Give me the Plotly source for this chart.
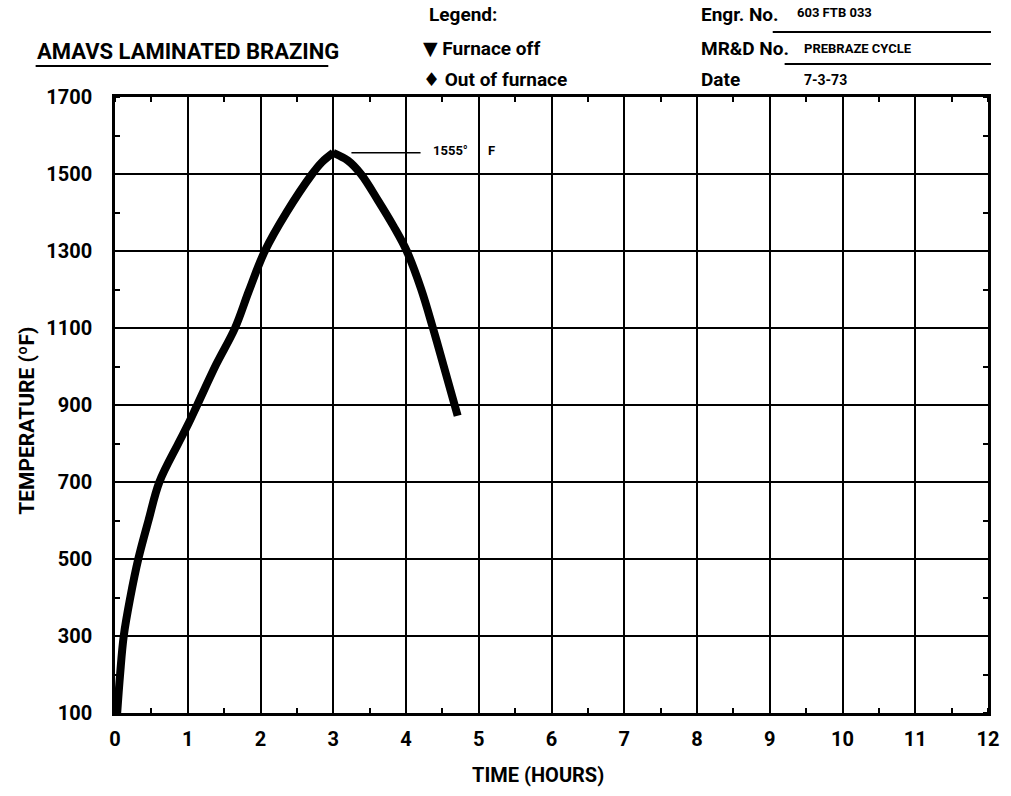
import plotly.graph_objects as go

# Prebraze furnace cycle: time (hours) vs. temperature (deg F)
time_hours = [0.03, 0.07, 0.12, 0.21, 0.32, 0.46, 0.61, 0.87, 1.0, 1.13, 1.39, 1.65, 1.84,
              2.06, 2.36, 2.71, 2.84, 3.0, 3.2, 3.38, 3.61, 3.83, 4.01, 4.21, 4.37, 4.52, 4.71]
temperature_f = [100, 200, 300, 400, 500, 600, 700, 800, 848, 900, 1005, 1100, 1196,
                 1300, 1401, 1500, 1530, 1555, 1535, 1500, 1433, 1364, 1300, 1200, 1100, 1000, 872]

peak_time = 3.0
peak_temp = 1555

x_ticks = list(range(0, 13))
y_ticks = list(range(100, 1701, 200))

FONT = "Roboto, DejaVu Sans, sans-serif"

# figure geometry (pixels) used to place header text in paper coordinates
W, H = 1011, 796
L, R, T, B = 115, 16, 97, 83
PW, PH = W - L - R, H - T - B


def px(xp):
    return (xp - L) / PW


def py(yp):
    return (H - B - yp) / PH


def font(size):
    return dict(family=FONT, size=size, color="black", weight="bold")


fig = go.Figure()

# heating and cooling legs drawn as smooth curves meeting at the peak
ip = temperature_f.index(peak_temp)
for xs, ys in ((time_hours[:ip + 1], temperature_f[:ip + 1]),
               (time_hours[ip:], temperature_f[ip:])):
    fig.add_trace(go.Scatter(
        x=xs, y=ys, mode="lines",
        line=dict(color="black", width=8, shape="spline", smoothing=1.0),
        hoverinfo="x+y", showlegend=False,
    ))

axis_common = dict(
    showline=True, linecolor="black", linewidth=2.5, mirror="ticks",
    showgrid=True, gridcolor="black", gridwidth=2,
    ticks="", zeroline=False,
    tickfont=font(20),
)

fig.update_xaxes(
    range=[0, 12], tickvals=x_ticks,
    ticklabelstandoff=6,
    minor=dict(dtick=0.5, tick0=0, ticks="inside", ticklen=5, tickcolor="black",
               tickwidth=2, showgrid=False),
    **axis_common,
)
fig.update_yaxes(
    range=[100, 1700], tickvals=y_ticks,
    ticklabelstandoff=16,
    minor=dict(dtick=100, tick0=100, ticks="inside", ticklen=5, tickcolor="black",
               tickwidth=2, showgrid=False),
    **axis_common,
)

ann = []


def text(x, y, s, size=18, xanchor="left", angle=0):
    ann.append(dict(
        xref="paper", yref="paper", x=x, y=y, text=s, showarrow=False,
        xanchor=xanchor, yanchor="middle", textangle=angle,
        font=font(size),
    ))


# axis titles
text(px(541), py(775), "TIME (HOURS)", size=20, xanchor="center")
text(px(26), py(421), "TEMPERATURE (ºF)", size=21, xanchor="center", angle=-90)

# header block
text(px(34), py(51), "AMAVS LAMINATED BRAZING", size=22)
text(px(430), py(15), "Legend:", size=19)
text(px(423), py(49), "▼ Furnace off", size=19)
text(px(423), py(80), "♦ Out of furnace", size=19)
text(px(704), py(15), "Engr. No.", size=19)
text(px(704), py(49), "MR&D No.", size=19)
text(px(704), py(80), "Date", size=19)
text(px(800), py(13), "603 FTB 033", size=13)
text(px(808), py(49), "PREBRAZE CYCLE", size=13)
text(px(808), py(80), "7-3-73", size=14)

# peak label with leader line
for s, shift in ((f"{peak_temp}°", 98), ("F", 153)):
    ann.append(dict(
        x=peak_time, y=peak_temp, xref="x", yref="y",
        text=s, showarrow=False,
        xanchor="left", yanchor="middle", xshift=shift, yshift=2,
        font=font(13),
    ))

shapes = [
    # title underline
    dict(type="line", xref="paper", yref="paper", x0=px(35), x1=px(330),
         y0=py(66), y1=py(66), line=dict(color="black", width=2)),
    # form field underlines
    dict(type="line", xref="paper", yref="paper", x0=px(778), x1=px(998),
         y0=py(32), y1=py(32), line=dict(color="black", width=2)),
    dict(type="line", xref="paper", yref="paper", x0=px(790), x1=px(998),
         y0=py(64), y1=py(64), line=dict(color="black", width=2)),
    # leader line from the peak to its label
    dict(type="line", xref="x", yref="y", x0=peak_time + 0.25, x1=peak_time + 1.2,
         y0=peak_temp, y1=peak_temp, line=dict(color="black", width=1.5)),
]

fig.update_layout(
    width=W, height=H,
    margin=dict(l=L, r=R, t=T, b=B),
    paper_bgcolor="white", plot_bgcolor="white",
    annotations=ann, shapes=shapes,
    showlegend=False,
)

fig.write_html("out.html")
